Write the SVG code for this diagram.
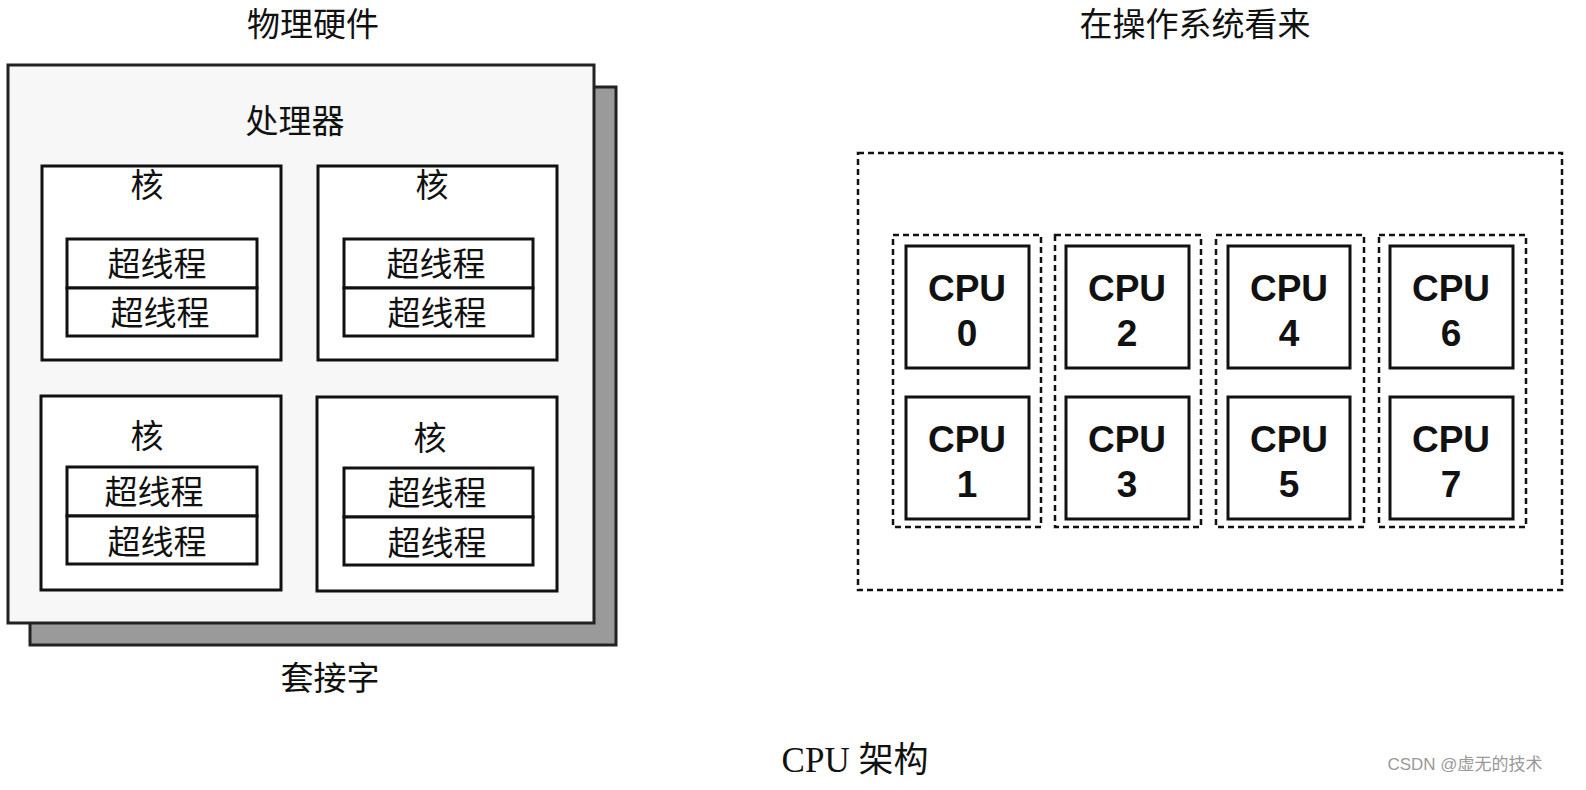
<svg xmlns="http://www.w3.org/2000/svg" width="1586" height="790" viewBox="0 0 1586 790">
<style>
.cn{font-family:"Liberation Serif","Noto Sans CJK SC",serif;fill:#111;text-anchor:middle}
.t{font-size:33px}
.box{fill:#fff;stroke:#111;stroke-width:3}
.dash{fill:none;stroke:#111;stroke-width:2.5;stroke-dasharray:6,4}
.cpu{font-family:"Liberation Sans",Arial,sans-serif;font-weight:bold;font-size:37px;fill:#111;text-anchor:middle}
</style>
<rect width="1586" height="790" fill="#fff"/>
<text class="cn t" x="313" y="36">物理硬件</text>
<text class="cn t" x="1195" y="36">在操作系统看来</text>
<g id="socket">
<rect x="30" y="87" width="586" height="558" fill="#9a9a9a" stroke="#222" stroke-width="3"/>
<rect x="8" y="65" width="586" height="558" fill="#f7f7f7" stroke="#222" stroke-width="3"/>
<text class="cn t" x="295" y="133">处理器</text>
</g>
<g id="core0"><rect class="box" x="42" y="166" width="239" height="194"/><text class="cn t" x="147" y="197">核</text>
<rect class="box" x="67" y="239" width="190" height="49"/><rect class="box" x="67" y="288" width="190" height="48"/>
<text class="cn t" x="157" y="276">超线程</text><text class="cn t" x="160" y="325">超线程</text></g>
<g id="core1"><rect class="box" x="318" y="166" width="239" height="194"/><text class="cn t" x="432" y="197">核</text>
<rect class="box" x="344" y="239" width="189" height="49"/><rect class="box" x="344" y="288" width="189" height="48"/>
<text class="cn t" x="436" y="276">超线程</text><text class="cn t" x="437" y="325">超线程</text></g>
<g id="core2"><rect class="box" x="41" y="396" width="240" height="194"/><text class="cn t" x="147" y="448">核</text>
<rect class="box" x="67" y="467" width="190" height="49"/><rect class="box" x="67" y="516" width="190" height="48"/>
<text class="cn t" x="154" y="504">超线程</text><text class="cn t" x="157" y="554">超线程</text></g>
<g id="core3"><rect class="box" x="317" y="397" width="240" height="194"/><text class="cn t" x="430" y="450">核</text>
<rect class="box" x="344" y="468" width="189" height="49"/><rect class="box" x="344" y="517" width="189" height="48"/>
<text class="cn t" x="437" y="505">超线程</text><text class="cn t" x="437" y="555">超线程</text></g>
<text class="cn t" x="330" y="690">套接字</text>
<g id="os">
<rect class="dash" x="858" y="153" width="704" height="437"/>
</g>
<g id="group0"><rect class="dash" x="893" y="235" width="148" height="292"/>
<rect class="box" x="906" y="246" width="123" height="122"/><text class="cpu" x="967" y="301">CPU</text><text class="cpu" x="967" y="346">0</text>
<rect class="box" x="906" y="397" width="123" height="122"/><text class="cpu" x="967" y="452">CPU</text><text class="cpu" x="967" y="497">1</text></g>
<g id="group1"><rect class="dash" x="1055" y="235" width="146" height="292"/>
<rect class="box" x="1066" y="246" width="123" height="122"/><text class="cpu" x="1127" y="301">CPU</text><text class="cpu" x="1127" y="346">2</text>
<rect class="box" x="1066" y="397" width="123" height="122"/><text class="cpu" x="1127" y="452">CPU</text><text class="cpu" x="1127" y="497">3</text></g>
<g id="group2"><rect class="dash" x="1216" y="235" width="148" height="292"/>
<rect class="box" x="1228" y="246" width="122" height="122"/><text class="cpu" x="1289" y="301">CPU</text><text class="cpu" x="1289" y="346">4</text>
<rect class="box" x="1228" y="397" width="122" height="122"/><text class="cpu" x="1289" y="452">CPU</text><text class="cpu" x="1289" y="497">5</text></g>
<g id="group3"><rect class="dash" x="1379" y="235" width="147" height="292"/>
<rect class="box" x="1390" y="246" width="123" height="122"/><text class="cpu" x="1451" y="301">CPU</text><text class="cpu" x="1451" y="346">6</text>
<rect class="box" x="1390" y="397" width="123" height="122"/><text class="cpu" x="1451" y="452">CPU</text><text class="cpu" x="1451" y="497">7</text></g>
<g id="connectors"/>
<text class="cn" x="855" y="772" font-size="35">CPU 架构</text>
<text x="1465" y="770" font-family="Liberation Sans,Noto Sans CJK SC,sans-serif" font-size="17" fill="#999" text-anchor="middle">CSDN @虚无的技术</text>
</svg>
